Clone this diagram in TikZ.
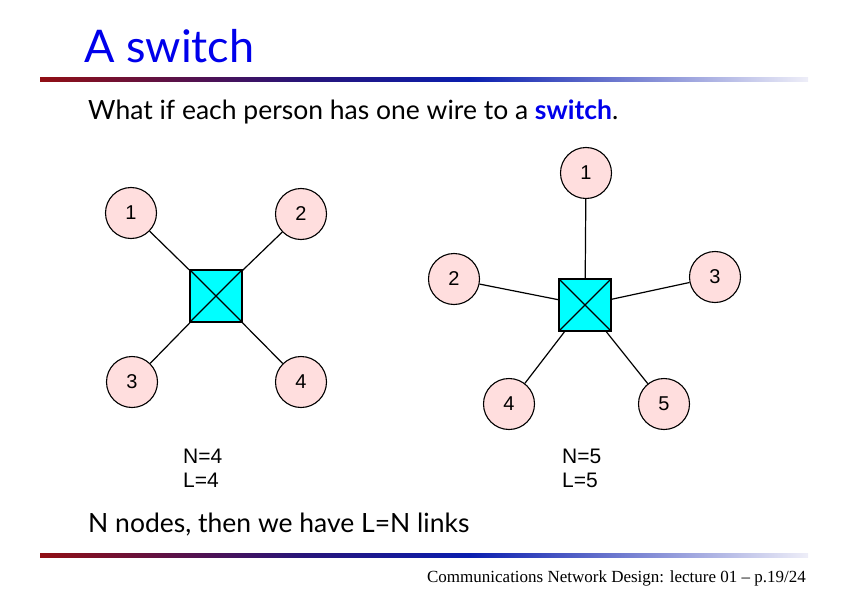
\documentclass[tikz,border=0pt]{standalone}
\usepackage{fontspec}
\setmainfont{Liberation Serif}
\newfontfamily\labelfont{Liberation Sans}
\newfontfamily\slidefont{Lato}
\usepackage{xcolor}
\usetikzlibrary{positioning}

\definecolor{titleblue}{RGB}{0,0,235}
\definecolor{nodepink}{RGB}{255,222,222}
\definecolor{switchcyan}{RGB}{0,255,255}
\definecolor{barred}{RGB}{145,15,20}
\definecolor{barnavy}{RGB}{40,20,120}
\definecolor{barblue}{RGB}{10,30,175}
\definecolor{barpale}{RGB}{238,238,248}

\begin{document}
\begin{tikzpicture}[
    x=1pt, y=-1pt,
    person/.style={
        circle,
        draw=black,
        line width=1.1pt,
        fill=nodepink,
        minimum size=51pt,
        inner sep=0pt,
        font=\labelfont\fontsize{20}{24}\selectfont
    },
    switchbox/.style={
        rectangle,
        draw=black,
        line width=1.1pt,
        fill=switchcyan,
        minimum size=52pt,
        inner sep=0pt
    },
    wire/.style={line width=1.2pt},
    count/.style={anchor=base west, inner sep=0pt, font=\labelfont\fontsize{21}{25}\selectfont},
    slidetext/.style={anchor=base west, inner sep=0pt, font=\slidefont\fontsize{26.5}{31}\selectfont}
]
\useasboundingbox (0,0) rectangle (842,596);

% title and bars
\node[anchor=base west, inner sep=0pt, text=titleblue, font=\slidefont\fontsize{45}{52}\selectfont] (title) at (84,63) {A switch};
\shade[left color=barred, right color=barnavy] (40,78) rectangle (300,82);
\shade[left color=barnavy, right color=barblue] (299.5,78) rectangle (470,82);
\shade[left color=barblue, right color=barpale] (469.5,78) rectangle (808,82);
\shade[left color=barred, right color=barnavy] (40,553) rectangle (300,557);
\shade[left color=barnavy, right color=barblue] (299.5,553) rectangle (470,557);
\shade[left color=barblue, right color=barpale] (469.5,553) rectangle (808,557);

\node[slidetext] (question) at (88,120) {What if each person has one wire to a {\bfseries\color{titleblue}switch}.};
\node[slidetext] (summary) at (88,532) {N nodes, then we have L=N links};
\node[anchor=base east, inner sep=0pt, font=\fontsize{17}{20}\selectfont] (footer) at (806,582) {Communications Network Design: lecture 01 -- p.19/24};

% four people
\node[switchbox] (swa) at (216,296) {};
\draw[line width=1.1pt] (swa.north west) -- (swa.south east);
\draw[line width=1.1pt] (swa.north east) -- (swa.south west);
\node[person] (a1) at (131,213) {1};
\node[person] (a2) at (301,214) {2};
\node[person] (a3) at (132,382) {3};
\node[person] (a4) at (301,382) {4};
\foreach \i in {1,...,4}
    \draw[wire] (a\i) -- (swa);
\node[count] (na) at (183,463) {N=4};
\node[count] (la) at (183,487) {L=4};

% five people
\node[switchbox] (swb) at (585,305) {};
\draw[line width=1.1pt] (swb.north west) -- (swb.south east);
\draw[line width=1.1pt] (swb.north east) -- (swb.south west);
\node[person] (b1) at (586,173) {1};
\node[person] (b2) at (454,279) {2};
\node[person] (b3) at (715,277) {3};
\node[person] (b4) at (509,404) {4};
\node[person] (b5) at (664,404) {5};
\foreach \i in {1,...,5}
    \draw[wire] (b\i) -- (swb);
\node[count] (nb) at (562,463) {N=5};
\node[count] (lb) at (562,487) {L=5};

\end{tikzpicture}
\end{document}
